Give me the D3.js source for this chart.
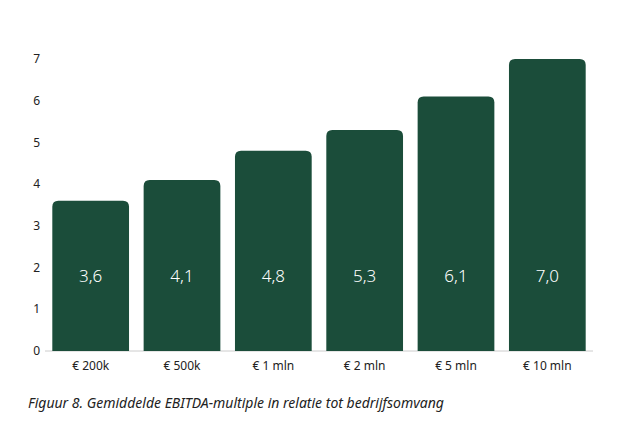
<!DOCTYPE html>
<html><head><meta charset="utf-8">
<script src="https://cdn.jsdelivr.net/npm/d3@7"></script>
<style>body{margin:0;background:#fff}svg{font-family:"Noto Sans",Lato,sans-serif}</style>
</head><body>
<svg id="c" width="623" height="422"></svg>
<script>
const categories = ["€ 200k","€ 500k","€ 1 mln","€ 2 mln","€ 5 mln","€ 10 mln"];
const values = [3.6,4.1,4.8,5.3,6.1,7.0];
const yTicks = [0,1,2,3,4,5,6,7];
const caption = "Figuur 8. Gemiddelde EBITDA-multiple in relatie tot bedrijfsomvang";

const svg = d3.select("#c");
const x = d3.scaleBand().domain(categories).range([45,593]).paddingInner(0.16).paddingOuter(0.08);
const y = d3.scaleLinear().domain([0,7]).range([351,59]);
const color = "#1b4d3a";

svg.selectAll(".yt").data(yTicks).join("text")
  .attr("x",40).attr("y",d=>y(d)).attr("dy","0.35em").attr("text-anchor","end")
  .attr("font-size",12).attr("fill","#222").text(d=>d);

svg.append("line").attr("x1",45).attr("x2",593).attr("y1",y(0)).attr("y2",y(0)).attr("stroke","#ccc");

const r = 6;
svg.selectAll(".bar").data(values).join("path")
  .attr("fill",color)
  .attr("d",(d,i)=>{
    const x0=x(categories[i]), w=x.bandwidth(), y0=y(d), yb=y(0);
    return `M${x0},${yb}V${y0+r}Q${x0},${y0} ${x0+r},${y0}H${x0+w-r}Q${x0+w},${y0} ${x0+w},${y0+r}V${yb}Z`;
  });

svg.selectAll(".vl").data(values).join("text")
  .attr("x",(d,i)=>x(categories[i])+x.bandwidth()/2).attr("y",y(1.8))
  .attr("text-anchor","middle").attr("dy","0.35em").attr("font-size",17).attr("font-weight",300).attr("fill","#fff")
  .text(d=>d.toFixed(1).replace(".",","));

svg.selectAll(".xl").data(categories).join("text")
  .attr("x",d=>x(d)+x.bandwidth()/2).attr("y",370)
  .attr("text-anchor","middle").attr("font-size",12).attr("fill","#222").text(d=>d);

svg.append("text").attr("x",28).attr("y",408).attr("font-size",14).attr("font-style","italic")
  .attr("fill","#222").text(caption);
</script>
</body></html>
